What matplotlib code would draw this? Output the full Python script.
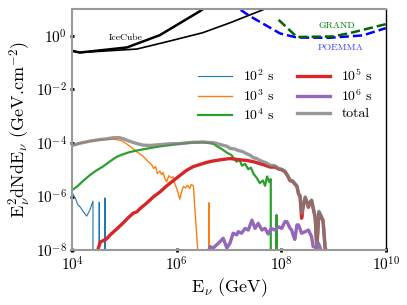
import matplotlib.pyplot as plt
import numpy as np

plt.rcParams['font.family'] = 'serif'
plt.rcParams['font.serif'] = ['cmr10']
plt.rcParams['mathtext.fontset'] = 'cm'
plt.rcParams['axes.unicode_minus'] = False
plt.rcParams['axes.formatter.use_mathtext'] = True

NEG = -np.inf  # flux exactly zero

# log10(E/GeV), log10(flux)
e_1e2 = [4.00, 4.03, 4.06, 4.11, 4.16, 4.21, 4.28, 4.34, 4.40, 4.405, 4.515, 4.52, 4.525, 4.625, 4.63, 4.635, 4.70]
f_1e2 = [-5.87, -5.95, -6.05, -6.30, -6.40, -6.55, -6.73, -6.51, -6.17, NEG, NEG, -6.21, NEG, NEG, -6.05, NEG, NEG]

e_1e3 = [4.00, 4.15, 4.34, 4.54, 4.67, 4.82, 4.96, 5.07, 5.17, 5.26, 5.36, 5.45, 5.52, 5.56,
         5.60, 5.63, 5.68, 5.71, 5.74, 5.78, 5.81, 5.85, 5.89, 5.93, 5.97, 6.01, 6.06, 6.09,
         6.13, 6.17, 6.21, 6.25, 6.28, 6.32, 6.41, 6.42, 6.615, 6.62, 6.625, 6.70]
f_1e3 = [-4.09, -4.01, -3.93, -3.88, -3.87, -3.86, -3.92, -4.07, -4.22, -4.36, -4.50, -4.68, -4.80, -4.95,
         -4.88, -5.14, -5.05, -5.18, -5.10, -5.35, -5.45, -5.22, -5.30, -5.26, -5.55, -5.75, -6.10, -5.85,
         -5.62, -5.68, -5.58, -5.70, -5.55, -5.60, -8.20, NEG, NEG, -6.23, NEG, NEG]

e_1e4 = [4.00, 4.10, 4.21, 4.34, 4.47, 4.59, 4.73, 4.85, 4.96, 5.10, 5.24, 5.40, 5.55, 5.70, 5.87,
         6.07, 6.26, 6.40, 6.50, 6.62, 6.70, 6.77, 6.86, 6.96, 7.05, 7.10, 7.15, 7.20, 7.25, 7.31,
         7.37, 7.42, 7.47, 7.53, 7.59, 7.65, 7.69, 7.73, 7.77, 7.80, 7.805, 7.90, 7.91, 7.92, 8.0]
f_1e4 = [-5.76, -5.62, -5.42, -5.20, -5.02, -4.88, -4.68, -4.52, -4.43, -4.34, -4.28, -4.22, -4.17, -4.12, -4.08,
         -4.03, -3.99, -3.98, -3.98, -4.00, -4.03, -4.12, -4.22, -4.36, -4.45, -4.60, -4.70, -4.62, -4.85, -4.78,
         -4.98, -4.92, -5.15, -5.30, -5.50, -5.40, -5.60, -5.25, -5.45, -5.35, NEG, NEG, -6.69, NEG, NEG]

e_1e5 = [4.46, 4.50, 4.54, 4.60, 4.65, 4.73, 4.85, 4.98, 5.08, 5.17, 5.24, 5.30, 5.43, 5.55, 5.68,
         5.81, 5.94, 6.07, 6.19, 6.32, 6.45, 6.58, 6.70, 6.86, 7.02, 7.18, 7.34, 7.47, 7.59, 7.69,
         7.79, 7.88, 7.95, 8.01, 8.07, 8.12, 8.17, 8.21, 8.26, 8.30, 8.33, 8.36, 8.39, 8.42, 8.46,
         8.49, 8.52, 8.55, 8.58, 8.62, 8.65, 8.68, 8.72, 8.76, 8.80, 8.84, 8.88]
f_1e5 = [-8.20, -7.95, -7.70, -7.64, -7.60, -7.43, -7.22, -6.98, -6.78, -6.62, -6.57, -6.45, -6.24, -6.02, -5.83,
         -5.60, -5.40, -5.20, -5.02, -4.88, -4.80, -4.72, -4.67, -4.62, -4.58, -4.62, -4.65, -4.70, -4.77, -4.83,
         -4.90, -4.90, -4.97, -5.00, -5.07, -5.22, -5.41, -5.42, -5.53, -5.62, -5.90, -6.00, -6.81, -6.35, -6.05,
         -6.22, -6.40, -6.22, -6.15, -6.52, -6.80, -7.95, -6.60, -6.75, -6.92, -7.95, -8.20]

e_1e6 = [6.60, 6.64, 6.70, 6.80, 6.89, 6.96, 7.02, 7.08, 7.15, 7.18, 7.24, 7.31, 7.37, 7.44, 7.50,
         7.56, 7.63, 7.69, 7.75, 7.81, 7.88, 7.95, 8.01, 8.07, 8.11, 8.17, 8.20, 8.23, 8.26, 8.30,
         8.33, 8.39, 8.46, 8.52, 8.58, 8.61, 8.66, 8.71, 8.77, 8.80]
f_1e6 = [-8.10, -7.87, -7.92, -7.74, -7.56, -7.92, -7.74, -7.37, -7.43, -7.31, -7.37, -7.19, -7.25, -6.88, -7.19,
         -7.00, -7.25, -7.19, -7.40, -7.19, -7.25, -7.13, -7.19, -6.94, -6.94, -7.19, -7.25, -7.45, -7.60, -7.06,
         -7.06, -7.37, -7.31, -7.25, -7.50, -7.87, -7.90, -7.74, -8.05, NEG]

e_tot = [4.00, 4.15, 4.34, 4.54, 4.67, 4.80, 4.90, 4.98, 5.08, 5.17, 5.24, 5.36, 5.49, 5.62, 5.74,
         5.87, 6.07, 6.26, 6.40, 6.50, 6.62, 6.70, 6.77, 6.88, 6.96, 7.02, 7.10, 7.18, 7.26, 7.34,
         7.40, 7.47, 7.53, 7.59, 7.66, 7.72, 7.79, 7.88, 7.95, 8.01, 8.07, 8.12, 8.17, 8.21, 8.26,
         8.30, 8.33, 8.36, 8.39, 8.42, 8.46, 8.49, 8.52, 8.55, 8.58, 8.62, 8.65, 8.68, 8.72, 8.76,
         8.80, 8.84, 8.88]
f_tot = [-4.09, -4.01, -3.93, -3.87, -3.84, -3.80, -3.80, -3.84, -3.92, -3.98, -4.02, -4.08, -4.09, -4.07, -4.05,
         -4.03, -4.02, -3.98, -3.97, -3.96, -3.98, -3.99, -4.02, -4.08, -4.12, -4.20, -4.22, -4.28, -4.32, -4.40,
         -4.45, -4.55, -4.58, -4.65, -4.70, -4.75, -4.83, -4.85, -4.95, -4.98, -5.05, -5.20, -5.39, -5.40, -5.51,
         -5.60, -5.88, -5.95, -6.62, -6.30, -6.01, -6.20, -6.38, -6.20, -6.13, -6.50, -6.75, -7.90, -6.55, -6.70,
         -6.88, -7.90, -8.10]

# sensitivities
e_ice_a = [4.00, 4.15, 5.05, 5.68, 6.45, 6.80]
f_ice_a = [-0.56, -0.62, -0.43, 0.03, 0.93, 1.40]
e_ice_b = [4.00, 4.15, 5.24, 5.87, 6.50, 7.02, 7.59, 8.00]
f_ice_b = [-0.56, -0.62, -0.49, -0.19, 0.12, 0.49, 0.93, 1.25]
e_poemma = [7.00, 7.21, 7.40, 7.98, 8.30, 8.93, 9.56, 9.98, 10.0]
f_poemma = [1.20, 0.99, 0.74, 0.09, -0.06, -0.07, 0.02, 0.28, 0.29]
e_grand = [7.95, 8.30, 8.99, 9.32, 10.0]
f_grand = [0.60, -0.04, -0.02, 0.11, 0.44]

series = [
    (e_1e2, f_1e2, r'$10^2$ s', '#1f77b4', 0.8),
    (e_1e3, f_1e3, r'$10^3$ s', '#ff7f0e', 1.0),
    (e_1e4, f_1e4, r'$10^4$ s', '#2ca02c', 1.6),
    (e_1e5, f_1e5, r'$10^5$ s', '#d62728', 2.4),
    (e_1e6, f_1e6, r'$10^6$ s', '#9467bd', 2.4),
]

fig = plt.figure(figsize=(4.07, 3.05), dpi=100)
ax = fig.add_axes([0.177, 0.18, 0.771, 0.79])

for e, f, lab, c, lw in series:
    ax.plot(10.0 ** np.array(e), 10.0 ** np.array(f), color=c, lw=lw, label=lab)
ax.plot(10.0 ** np.array(e_tot), 10.0 ** np.array(f_tot), color='#7f7f7f', lw=2.4, alpha=0.8, label='total')

ax.plot(10.0 ** np.array(e_ice_a), 10.0 ** np.array(f_ice_a), color='black', lw=1.8)
ax.plot(10.0 ** np.array(e_ice_b), 10.0 ** np.array(f_ice_b), color='black', lw=1.2)
ax.plot(10.0 ** np.array(e_poemma), 10.0 ** np.array(f_poemma), color='blue', lw=1.8, ls='--')
ax.plot(10.0 ** np.array(e_grand), 10.0 ** np.array(f_grand), color='darkgreen', lw=1.8, ls='--')

ax.text(1.05e5, 0.85, 'IceCube', fontsize=7, ha='center', va='center')
ax.text(1.15e9, 2.3, 'GRAND', fontsize=7, ha='center', va='center', color='green')
ax.text(1.35e9, 0.37, 'POEMMA', fontsize=7, ha='center', va='center', color='#4040ff')

ax.set_xscale('log')
ax.set_yscale('log')
ax.set_xlim(1e4, 1e10)
ax.set_ylim(1e-8, 10)
ax.set_xticks([1e4, 1e6, 1e8, 1e10])
ax.set_yticks([1e-8, 1e-6, 1e-4, 1e-2, 1e0])
ax.minorticks_off()
ax.tick_params(direction='inout', length=3, width=2, labelsize=11, pad=2)

for side in ['left', 'bottom', 'top']:
    ax.spines[side].set_color('#999999')
    ax.spines[side].set_linewidth(1.5)
ax.spines['right'].set_color('black')
ax.spines['right'].set_linewidth(1.0)

ax.set_xlabel(r'E$_\nu$ (GeV)', fontsize=13, labelpad=2)
ax.set_ylabel(r'E$_\nu^2$dNdE$_\nu$ (GeV.cm$^{-2}$)', fontsize=13, labelpad=2)

ax.legend(ncol=2, loc='upper right', bbox_to_anchor=(1.0, 0.81), frameon=False,
          fontsize=10, handlelength=2.4, columnspacing=1.6, labelspacing=0.3)

fig.savefig('out.png', dpi=100)
